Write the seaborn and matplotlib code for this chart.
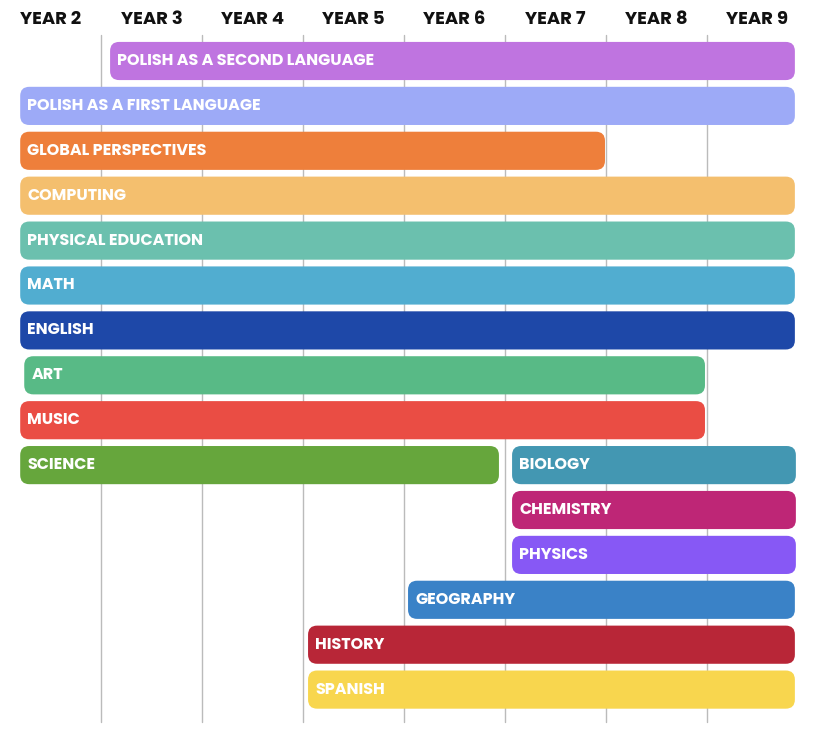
import matplotlib
matplotlib.use("Agg")
import matplotlib.pyplot as plt
import seaborn as sns
from matplotlib.patches import FancyBboxPatch

years = ["YEAR 2", "YEAR 3", "YEAR 4", "YEAR 5", "YEAR 6", "YEAR 7", "YEAR 8", "YEAR 9"]

subjects = ["POLISH AS A SECOND LANGUAGE", "POLISH AS A FIRST LANGUAGE", "GLOBAL PERSPECTIVES",
            "COMPUTING", "PHYSICAL EDUCATION", "MATH", "ENGLISH", "ART", "MUSIC", "SCIENCE",
            "BIOLOGY", "CHEMISTRY", "PHYSICS", "GEOGRAPHY", "HISTORY", "SPANISH"]
rows = [0, 1, 2, 3, 4, 5, 6, 7, 8, 9, 9, 10, 11, 12, 13, 14]
# start / end in year-column units (0 = start of YEAR 2, 8 = end of YEAR 9)
starts = [1.09, 0.2, 0.2, 0.2, 0.2, 0.2, 0.2, 0.24, 0.2, 0.2, 5.07, 5.07, 5.07, 4.04, 3.05, 3.05]
ends = [7.87, 7.87, 5.99, 7.87, 7.87, 7.87, 7.87, 6.98, 6.98, 4.94, 7.88, 7.88, 7.88, 7.87, 7.87, 7.87]
colors = ["#BF74E0", "#9DAAF7", "#EE7F3B", "#F4BF6E", "#6BC0AE", "#51ADD0", "#1E48A8", "#58BA86",
          "#EA4D44", "#66A63C", "#4397B2", "#BE2676", "#8758F5", "#3A82C7", "#B82637", "#F8D64E"]

sns.set_theme(style="white")
plt.rcParams["font.family"] = ["Poppins", "Inter", "DejaVu Sans"]

fig = plt.figure(figsize=(8.2, 7.29), dpi=100)
ax = fig.add_axes([0, 0, 1, 1])
px_x = 101.0
px_y = 44.9
ax.set_xlim(0, 820 / px_x)
ax.set_ylim((729 - 61) / px_y, (0 - 61) / px_y)
ax.axis("off")

for i in range(1, 8):
    ax.plot([i, i], [(35 - 61) / px_y, (722 - 61) / px_y], color="#BBBBBB", lw=1, zorder=0)

for i, y in enumerate(years):
    ax.text(i + 0.5, (20 - 61) / px_y, y, ha="center", va="center",
            fontsize=13, fontweight="bold", color="#111111")

h = 0.85
for s, e, r, c, lab in zip(starts, ends, rows, colors, subjects):
    box = FancyBboxPatch((s, r - h / 2), e - s, h,
                         boxstyle="round,pad=0,rounding_size=0.09",
                         mutation_aspect=px_x / px_y, fc=c, ec="none", zorder=2)
    ax.add_patch(box)
    ax.text(s + 0.07, r, lab, ha="left", va="center", color="white",
            fontsize=11.5, fontweight="bold", zorder=3)

fig.savefig("out.png", dpi=100, facecolor="white")
